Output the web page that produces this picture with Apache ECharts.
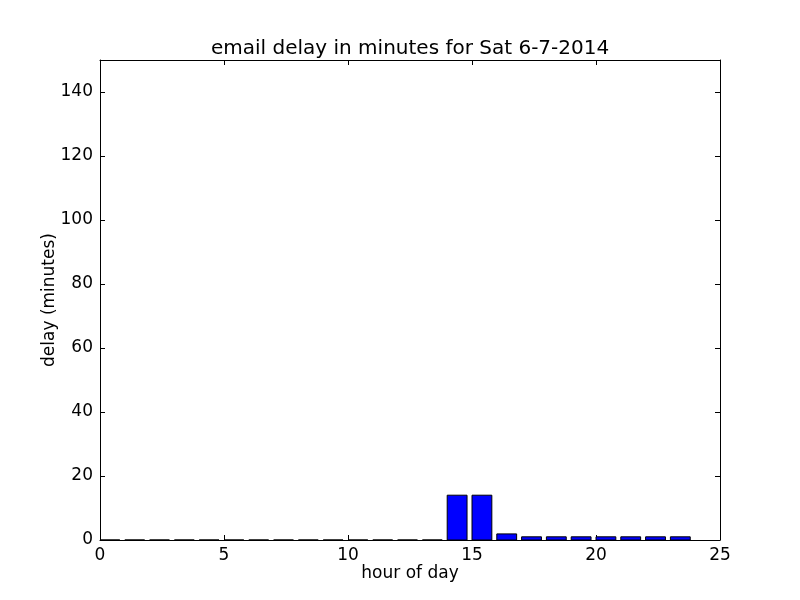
<!DOCTYPE html>
<html><head><meta charset="utf-8">
<script src="https://cdn.jsdelivr.net/npm/echarts@6/dist/echarts.min.js"></script>
<style>html,body{margin:0;padding:0;background:#fff}#c{width:800px;height:600px}</style>
</head><body><div id="c"></div>
<script>
const hours = [0,1,2,3,4,5,6,7,8,9,10,11,12,13,14,15,16,17,18,19,20,21,22,23];
const delays = [0,0,0,0,0,0,0,0,0,0,0,0,0,0,14,14,1.9,1,1,1,1,1,1,1];
const xTicks = [0,5,10,15,20,25];
const yTicks = [0,20,40,60,80,100,120,140];
const barWidthUnits = 0.8;

const chart = echarts.init(document.getElementById('c'), null, {renderer:'canvas'});
const font = 'DejaVu Sans';
const axisCommon = {
  axisLine:{show:true, onZero:false, lineStyle:{color:'#000', width:1}},
  axisTick:{show:true, inside:true, length:5, lineStyle:{color:'#000'}},
  splitLine:{show:false}
};
chart.setOption({
  animation:false,
  backgroundColor:'#fff',
  title:{text:'email delay in minutes for Sat 6-7-2014', left:206, top:34,
    textStyle:{fontFamily:font, fontSize:20, fontWeight:'normal', color:'#000'}},
  grid:{left:100, right:80, top:60, bottom:60},
  xAxis:[
    Object.assign({type:'value', min:0, max:25, interval:5, position:'bottom',
      name:'hour of day', nameLocation:'middle', nameGap:25, nameMoveOverlap:false,
      nameTextStyle:{fontFamily:font, fontSize:17, color:'#000'},
      axisLabel:{fontFamily:font, fontSize:17, color:'#000', margin:7}}, axisCommon),
    Object.assign({type:'value', min:0, max:25, interval:5, position:'top',
      axisLabel:{show:false}}, axisCommon)
  ],
  yAxis:[
    Object.assign({type:'value', min:0, max:150, interval:20, position:'left',
      name:'delay (minutes)', nameLocation:'middle', nameGap:42, nameMoveOverlap:false,
      nameTextStyle:{fontFamily:font, fontSize:17, color:'#000'},
      axisLabel:{fontFamily:font, fontSize:17, color:'#000', margin:7,
        formatter:v => yTicks.includes(v) ? String(v) : ''}}, axisCommon),
    Object.assign({type:'value', min:0, max:150, interval:20, position:'right',
      axisLabel:{show:false}}, axisCommon)
  ],
  series:[{
    type:'custom',
    xAxisIndex:0, yAxisIndex:0,
    data: hours.map((h,i)=>[h, delays[i]]),
    renderItem:function(params, api){
      const x = api.value(0), y = api.value(1);
      const p0 = api.coord([x, 0]);
      const p1 = api.coord([x + barWidthUnits, y]);
      return {type:'rect', shape:{x:p0[0], y:p1[1], width:p1[0]-p0[0], height:p0[1]-p1[1]},
        style:{fill:'#0000ff', stroke:'#000', lineWidth:1}};
    }
  }]
});
</script></body></html>
